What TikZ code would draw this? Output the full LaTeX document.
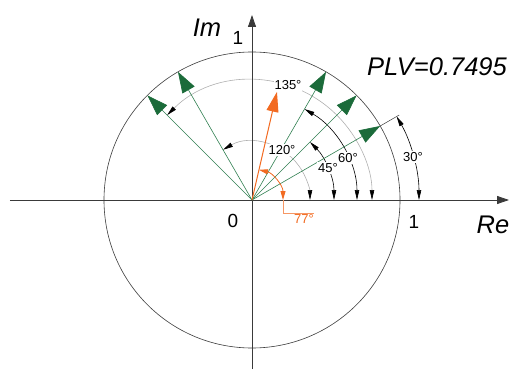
\documentclass[tikz,border=0pt]{standalone}
\usepackage{fontspec}
\setmainfont{Liberation Sans}
\usetikzlibrary{arrows.meta}
\definecolor{vgreen}{HTML}{1B6B3A}
\definecolor{lgreen}{HTML}{2F7F50}
\definecolor{vorange}{HTML}{F26A21}
\definecolor{axgray}{HTML}{3A3A3A}
\definecolor{arcgray}{HTML}{B0B0B0}
\begin{document}
\begin{tikzpicture}[x=1pt,y=1pt,
  axis/.style={draw=axgray,line width=0.8pt,-{Triangle[length=12pt,width=8pt]}},
  gvec/.style={draw=lgreen,line width=0.6pt,-{Triangle[length=21pt,width=14pt,color=vgreen]}},
  ovec/.style={draw=vorange,line width=1pt,-{Triangle[length=20pt,width=12pt,color=vorange]}},
  dimarc/.style={line width=0.6pt,{Triangle[length=10pt,width=4.5pt,color=black]}-{Triangle[length=10pt,width=4.5pt,color=black]}},
  deg/.style={font=\fontsize{13}{15}\selectfont,fill=white,inner sep=1pt},
  big/.style={font=\fontsize{25.5}{30}\selectfont\itshape,inner sep=0pt},
  tick/.style={font=\fontsize{19}{22}\selectfont,inner sep=0pt}]
\useasboundingbox (-252,-169) rectangle (258,200);
\coordinate (O) at (0,0);
\coordinate (xl) at (-242,0);
\coordinate (xr) at (257,0);
\coordinate (yb) at (0,-169);
\coordinate (yt) at (0,185);
\draw[axgray,line width=0.6pt] (O) circle[radius=148];
% dimension arcs
\draw[arcgray,dimarc] (120:58) arc[start angle=120,end angle=0,radius=58];
\draw[arcgray,dimarc] (135:120) arc[start angle=135,end angle=0,radius=120];
\draw[black,dimarc] (45:82) arc[start angle=45,end angle=0,radius=82];
\draw[black,dimarc] (60:105) arc[start angle=60,end angle=0,radius=105];
\draw[black,dimarc] (30:167) arc[start angle=30,end angle=0,radius=167];
\coordinate (e30a) at (30:148);
\coordinate (e30b) at (30:170);
\draw[axgray,line width=0.5pt] (e30a) -- (e30b);
% axes
\draw[axis] (xl) -- (xr);
\draw[axis] (yb) -- (yt);
% vectors
\foreach \a in {30,45,60,120,135}{
  \coordinate (t\a) at (\a:148);
  \draw[gvec] (O) -- (t\a);
}
\coordinate (t77) at (77:111);
\draw[ovec] (O) -- (t77);
% orange angle
\draw[vorange,line width=0.8pt,{Triangle[length=9pt,width=5pt,color=vorange]}-{Triangle[length=9pt,width=5pt,color=vorange]}] (77:31) arc[start angle=77,end angle=0,radius=31];
\coordinate (l1) at (31,0);
\coordinate (l2) at (31,-13);
\coordinate (l3) at (62,-13);
\draw[vorange!70,line width=0.6pt] (l1) -- (l2) -- (l3);
\node[font=\fontsize{13}{15}\selectfont,text=vorange,anchor=north,inner sep=1pt] (lab77) at (52,-13.5) {77°};
% labels
\node[deg] (lab30) at (161,43) {30°};
\node[deg] (lab45) at (76,32) {45°};
\node[deg] (lab60) at (96,42) {60°};
\node[deg] (lab120) at (30,50) {120°};
\node[deg] (lab135) at (36,115) {135°};
\node[big] (im) at (-45,172) {Im};
\node[big] (re) at (241,-25) {Re};
\node[big] (plv) at (185,133) {PLV=0.7495};
\node[tick] (one1) at (-14,162) {1};
\node[tick] (zero) at (-19,-21) {0};
\node[tick] (one2) at (162,-22) {1};
\end{tikzpicture}
\end{document}
